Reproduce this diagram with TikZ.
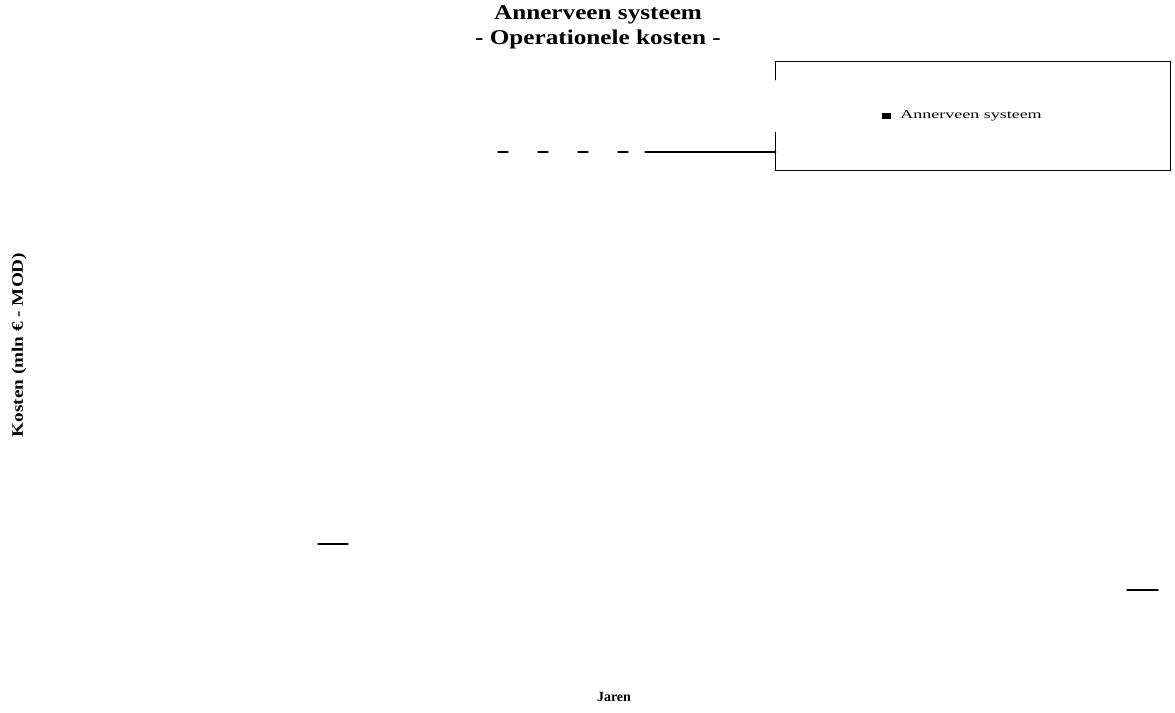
\documentclass[tikz,border=0pt]{standalone}
\usepackage{fontspec}
\setmainfont{Liberation Serif}
\tikzset{
  title/.style={font=\bfseries\fontsize{21}{22}\selectfont, align=center, inner sep=0pt, xscale=1.2},
  axislabel/.style={font=\bfseries\fontsize{14}{15}\selectfont, inner sep=0pt},
  frame/.style={line width=1.1pt, line cap=round},
}
\begin{document}
\begin{tikzpicture}[x=1pt,y=-1pt]
\useasboundingbox (0,0) rectangle (1175,712);
\node (title) [title] at (598,27) {Annerveen systeem\\[3pt] - Operationele kosten -};
\node (legend) [inner sep=0pt, minimum width=394pt, minimum height=108pt] at (973,116) {};
\node (entry) [font=\fontsize{12}{13}\selectfont, inner sep=0pt, xscale=1.5] at (962,116) {%
  \rule{6pt}{6pt}\hspace{6pt}Annerveen systeem};
\draw [frame] (legend.north west) ++(0,18) -- (legend.north west) -- (legend.north east)
  -- (legend.south east) -- (legend.south west) -- ++(0,-38);
\coordinate (leadstart) at (498,152);
\coordinate (leadmid) at (645,152);
\draw [frame, dash pattern=on 10pt off 30pt] (leadstart) -- (leadmid);
\draw [frame] (leadmid) -- (legend.west |- leadmid);
\node (ylabel) [axislabel, font=\bfseries\fontsize{16}{17}\selectfont, rotate=90, xscale=1.2] at (19,345) {Kosten (mln € - MOD)};
\node (xlabel) [axislabel] at (614,697) {Jaren};
\draw [frame] (318,544) -- (348,544);
\draw [frame] (1127,590) -- (1158,590);
\end{tikzpicture}
\end{document}
